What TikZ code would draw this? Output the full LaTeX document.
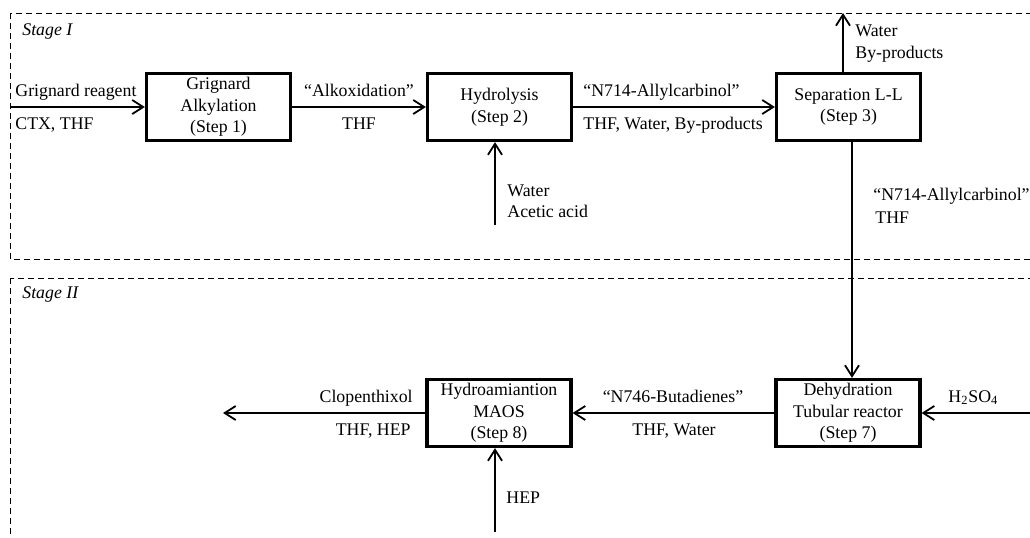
\documentclass[tikz,border=0pt]{standalone}
\usepackage{fontspec}
\setmainfont{Liberation Serif}
\usetikzlibrary{arrows.meta}
\begin{document}
\begin{tikzpicture}[x=0.5pt,y=-0.5pt,
  every node/.style={font=\fontsize{8.9}{10.75}\selectfont, inner sep=0pt},
  stepbox/.style={draw, line width=1.6pt, minimum width=72pt, minimum height=33.5pt, align=center},
  flow/.style={line width=0.6pt, -{Straight Barb[length=5.5pt,width=7pt,line width=0.9pt]}},
  stage/.style={draw, dash pattern=on 3pt off 2pt, line width=0.5pt},
  lw/.style={anchor=base west},
  lc/.style={anchor=base},
  le/.style={anchor=base east},
  stagelabel/.style={anchor=base west, font=\fontsize{8.9}{10.75}\selectfont\itshape}
]
\useasboundingbox (0,0) rectangle (1030,537);
\clip (0,0) rectangle (1030,537);

% stage frames (they run past the right and bottom edges)
\draw[stage] (10,13) rectangle (1045,259);
\draw[stage] (10,278) rectangle (1045,560);
\node[stagelabel] (s1) at (22,35) {Stage I};
\node[stagelabel] (s2) at (22,298) {Stage II};

% process steps
\node[stepbox] (b1) at (218.5,107) {Grignard\\Alkylation\\(Step 1)};
\node[stepbox] (b2) at (499.5,107) {Hydrolysis\\(Step 2)};
\node[stepbox] (b3) at (848.5,107) {Separation L-L\\(Step 3)};
\node[stepbox] (b7) at (848,413) {Dehydration\\Tubular reactor\\(Step 7)};
\node[stepbox] (b8) at (499,413) {Hydroamiantion\\MAOS\\(Step 8)};

% free ends of the feed and product streams
\coordinate (feed) at (10,107);
\coordinate (waterin) at (495,225);
\coordinate (byout) at (843,13);
\coordinate (drop) at (852,0);
\coordinate (acid) at (1030,413);
\coordinate (prod) at (223,413);
\coordinate (hepin) at (495,532);

% streams
\draw[flow] (feed) -- (b1.west);
\draw[flow] (b1.east) -- (b2.west);
\draw[flow] (b2.east) -- (b3.west);
\draw[flow] (waterin) -- (waterin |- b2.south);
\draw[flow] (b3.north -| byout) -- (byout);
\draw[flow] (b3.south -| drop) -- (b7.north -| drop);
\draw[flow] (acid) -- (b7.east);
\draw[flow] (b7.west) -- (b8.east);
\draw[flow] (b8.west) -- (prod);
\draw[flow] (hepin) -- (hepin |- b8.south);

% stream labels
\node[lw] (t1a) at (15,96) {Grignard reagent};
\node[lw] (t1b) at (15,129) {CTX, THF};
\node[lc] (t2a) at (359,96) {“Alkoxidation”};
\node[lc] (t2b) at (359,129) {THF};
\node[lw] (t3a) at (583,96) {“N714-Allylcarbinol”};
\node[lw] (t3b) at (583,129) {THF, Water, By-products};
\node[lw] (t4a) at (507,196) {Water};
\node[lw] (t4b) at (507,217) {Acetic acid};
\node[lw] (t5a) at (855,36) {Water};
\node[lw] (t5b) at (855,58) {By-products};
\node[lw] (t6a) at (873,200) {“N714-Allylcarbinol”};
\node[lw] (t6b) at (875,223) {THF};
\node[lw] (t7) at (948,402) {H\textsubscript{2}SO\textsubscript{4}};
\node[lc] (t8a) at (673,402) {“N746-Butadienes”};
\node[lc] (t8b) at (674,435) {THF, Water};
\node[le] (t9a) at (413,402) {Clopenthixol};
\node[le] (t9b) at (411,435) {THF, HEP};
\node[lw] (t10) at (506,503) {HEP};
\end{tikzpicture}
\end{document}
